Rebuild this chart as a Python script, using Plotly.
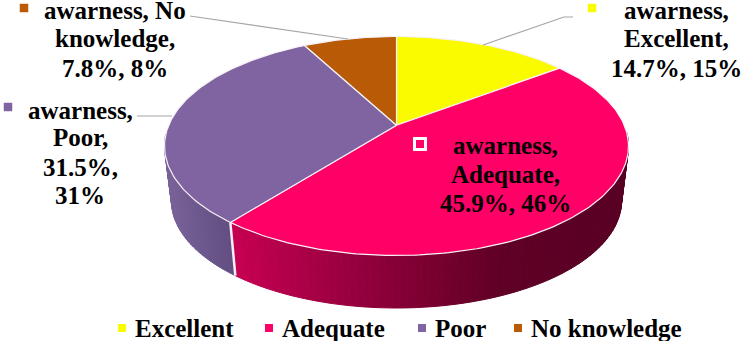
import math
import plotly.graph_objects as go

categories = ["Excellent", "Adequate", "Poor", "No knowledge"]
percentages = [14.7, 45.9, 31.5, 7.8]
rounded_percentages = [15, 46, 31, 8]
series_name = "awarness"
colors = ["#FBFB00", "#FF0066", "#8064A2", "#B85A06"]

W, H = 752, 341
FONT = "Liberation Serif"
FONT_SIZE = 25
CX, CY, RX, RY = 396.5, 146.0, 232.0, 109.5
BCX, BCY, BRX, BRY = 396.5, 201.0, 225.0, 107.0
K = 0.19  # perspective: where the pie's apex lands in the top ellipse
KS = math.sqrt(1 - K * K)


def rim(theta_deg, cx=CX, cy=CY, rx=RX, ry=RY):
    t = math.radians(theta_deg)
    den = 1 + K * math.cos(t)
    return cx + rx * KS * math.sin(t) / den, cy - ry * (math.cos(t) + K) / den


def lerp_color(stops, x):
    for (x0, c0), (x1, c1) in zip(stops, stops[1:]):
        if x <= x1:
            f = max(0.0, (x - x0) / (x1 - x0))
            return "rgb(%d,%d,%d)" % tuple(round(a + (b - a) * f) for a, b in zip(c0, c1))
    return "rgb(%d,%d,%d)" % stops[-1][1]


wall_gradients = {
    "Adequate": [(233, (198, 0, 82)), (330, (160, 0, 66)), (420, (125, 0, 50)), (500, (96, 0, 38)), (628, (88, 0, 36))],
    "Poor": [(165, (120, 98, 152)), (236, (96, 76, 128))],
}

fig = go.Figure()

spans = []
cum = 0.0
total = sum(percentages)
for v in percentages:
    start = cum / total * 360
    cum += v
    spans.append((start, cum / total * 360))

# side walls
for cat, (a0, a1) in zip(categories, spans):
    if cat not in wall_gradients:
        continue
    steps = max(2, int((a1 - a0) / 1.5))
    for i in range(steps):
        t0 = a0 + (a1 - a0) * i / steps
        t1 = a0 + (a1 - a0) * (i + 1) / steps
        p0, p1 = rim(t0), rim(t1)
        q0, q1 = rim(t0, BCX, BCY, BRX, BRY), rim(t1, BCX, BCY, BRX, BRY)
        if max(p0[1], p1[1]) < CY - 12:
            continue
        col = lerp_color(wall_gradients[cat], (p0[0] + p1[0]) / 2)
        fig.add_trace(go.Scatter(x=[p0[0], p1[0], q1[0], q0[0], p0[0]], y=[p0[1], p1[1], q1[1], q0[1], p0[1]],
                                 mode="lines", fill="toself", fillcolor=col, line=dict(color=col, width=1),
                                 hoverinfo="skip", showlegend=False))

a = spans[1][1]
p, q = rim(a), rim(a, BCX, BCY, BRX, BRY)
fig.add_trace(go.Scatter(x=[p[0], q[0]], y=[p[1], q[1]], mode="lines", line=dict(color="#F4F0F4", width=2.5),
                         hoverinfo="skip", showlegend=False))

# top faces
apex = (CX, CY - RY * K)
for cat, color, (a0, a1) in zip(categories, colors, spans):
    n = max(8, int(a1 - a0))
    pts = [rim(a0 + (a1 - a0) * i / n) for i in range(n + 1)]
    xs = [apex[0]] + [p[0] for p in pts] + [apex[0]]
    ys = [apex[1]] + [p[1] for p in pts] + [apex[1]]
    fig.add_trace(go.Scatter(x=xs, y=ys, mode="lines", fill="toself", fillcolor=color,
                             line=dict(color="#F6F2F6", width=1.2), name=cat, showlegend=False,
                             hovertemplate=f"{cat}: {percentages[categories.index(cat)]}%<extra></extra>"))

# leader lines
leaders = [
    ([573, 564, 483], [17, 17, 45]),
    ([190, 348], [16, 39]),
    ([137, 172], [116, 116]),
]
for lx, ly in leaders:
    fig.add_trace(go.Scatter(x=lx, y=ly, mode="lines", line=dict(color="#A6A6A6", width=1.2), hoverinfo="skip", showlegend=False))

# data labels: centre x, y of each text line, key position
label_layout = {
    "Excellent": (676, [10, 38, 68], (592, 8)),
    "Adequate": (505, [145, 174, 203], (420, 144)),
    "Poor": (80, [110, 137, 167, 195], (8, 107)),
    "No knowledge": (115, [10, 38, 68], (24, 8)),
}
label_lines = {
    "Excellent": ["{s},", "{c},", "{p:.1f}%, {r}%"],
    "Adequate": ["{s},", "{c},", "{p:.1f}%, {r}%"],
    "Poor": ["{s},", "{c},", "{p:.1f}%,", "{r}%"],
    "No knowledge": ["{s}, No", "knowledge,", "{p:.1f}%, {r}%"],
}
annotations = []
for cat, color, p, r in zip(categories, colors, percentages, rounded_percentages):
    tx, tys, (mx, my) = label_layout[cat]
    for ty, line in zip(tys, label_lines[cat]):
        annotations.append(dict(x=tx, y=ty, xref="x", yref="y", showarrow=False, xanchor="center", yanchor="middle",
                                align="center", text="<b>" + line.format(s=series_name, c=cat, p=p, r=r) + "</b>",
                                font=dict(family=FONT, size=FONT_SIZE, color="#000000")))
    outlined = cat == "Adequate"
    fig.add_trace(go.Scatter(x=[mx], y=[my], mode="markers", hoverinfo="skip", showlegend=False,
                             marker=dict(symbol="square", size=11 if outlined else 8.5, color=color,
                                         line=dict(color="#FFFFFF", width=3 if outlined else 0))))

# legend row
legend_x = [122, 269, 422, 518]
legend_y = 328
for cat, color, x in zip(categories, colors, legend_x):
    fig.add_trace(go.Scatter(x=[x], y=[legend_y], mode="markers", hoverinfo="skip", showlegend=False,
                             marker=dict(symbol="square", size=8, color=color)))
    annotations.append(dict(x=x + 11, y=legend_y, xref="x", yref="y", showarrow=False, xanchor="left", yanchor="middle",
                            text=f"<b>{cat}</b>", font=dict(family=FONT, size=FONT_SIZE, color="#000000")))

fig.update_layout(
    width=W, height=H, margin=dict(l=0, r=0, t=0, b=0), paper_bgcolor="#FFFFFF", plot_bgcolor="#FFFFFF",
    xaxis=dict(range=[0, W], visible=False, fixedrange=True),
    yaxis=dict(range=[H, 0], visible=False, fixedrange=True),
    annotations=annotations, showlegend=False,
)
fig.write_html("out.html", config=dict(displayModeBar=False),
               post_script="document.body.style.margin='0';document.documentElement.style.overflow='hidden';")
